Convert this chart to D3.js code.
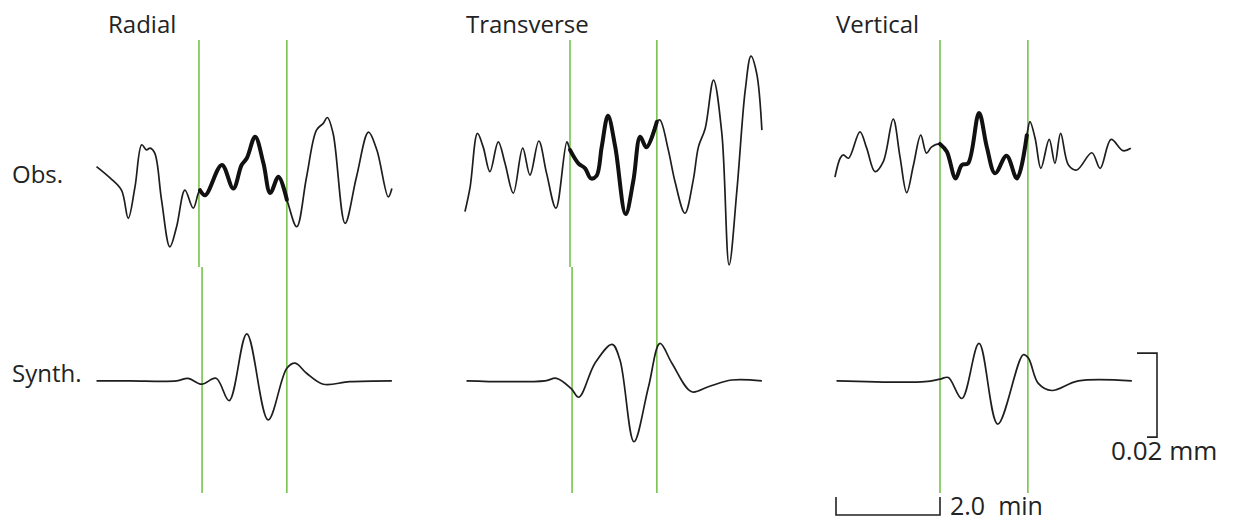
<!DOCTYPE html>
<html>
<head>
<meta charset="utf-8">
<script src="https://cdn.jsdelivr.net/npm/d3@7"></script>
<style>
  body { margin: 0; background: #fff; }
  text { font-family: "Open Sans", sans-serif; fill: #232323; }
</style>
</head>
<body>
<svg id="chart"></svg>
<script>
// time in minutes from the first pick, amplitude in micrometres (0.001 mm)
const components = ['Radial', 'Transverse', 'Vertical'];
const rowLabels = ['Obs.', 'Synth.'];

const radialObs = [
  [-1.99, 0.8], [-1.73, -1.9], [-1.51, -4.8], [-1.38, -11.5], [-1.25, -4.0], [-1.12, 6.0],
  [-1.03, 4.8], [-0.96, 5.2], [-0.87, 4.0], [-0.74, -7.1], [-0.58, -18.3], [-0.45, -13.5],
  [-0.29, -4.8], [-0.13, -9.1], [0, -4.8], [0.10, -6.0], [0.42, 1.2], [0.64, -4.4],
  [0.80, 1.2], [0.90, 2.8], [1.06, 7.9], [1.22, 1.6], [1.35, -5.5], [1.51, -1.6],
  [1.67, -7.1], [1.86, -13.5], [2.05, -1.6], [2.24, 9.5], [2.37, 11.1], [2.45, 12.5],
  [2.56, 8.7], [2.79, -12.7], [3.01, -1.6], [3.24, 9.0], [3.40, 4.8], [3.62, -6.4], [3.69, -4.4]
];
const transverseObs = [
  [-2.02, -9.9], [-1.92, -4.0], [-1.78, 8.7], [-1.67, 5.5], [-1.54, -0.4], [-1.38, 6.7],
  [-1.25, 1.6], [-1.09, -5.5], [-0.91, 5.2], [-0.77, -1.2], [-0.60, 6.9], [-0.45, -0.8],
  [-0.27, -9.1], [-0.06, 6.7], [0, 4.8], [0.16, 1.6], [0.29, 0.4], [0.40, -2.0],
  [0.51, -1.4], [0.61, 5.5], [0.73, 12.9], [0.87, 5.5], [1.07, -10.5], [1.22, -2.4],
  [1.35, 7.9], [1.47, 5.4], [1.67, 11.5], [1.73, 11.9], [1.89, 4.8], [2.02, -2.8],
  [2.21, -10.3], [2.37, -2.4], [2.47, 5.5], [2.60, 9.9], [2.76, 21.4], [2.92, 8.7],
  [3.06, -22.6], [3.21, -4.8], [3.37, 19.0], [3.48, 27.1], [3.59, 23.0], [3.69, 9.5]
];
const verticalObs = [
  [-2.02, -1.7], [-1.92, 2.8], [-1.86, 3.6], [-1.76, 2.8], [-1.54, 9.1], [-1.41, 5.2],
  [-1.25, -0.4], [-1.09, 2.0], [-0.90, 12.1], [-0.77, 3.2], [-0.64, -5.4], [-0.51, 1.2],
  [-0.37, 8.3], [-0.26, 4.0], [-0.16, 5.5], [0, 6.2], [0.13, 4.4], [0.30, -2.0],
  [0.42, 1.2], [0.54, 1.6], [0.75, 13.6], [0.90, 5.5], [1.06, -0.8], [1.28, 3.4],
  [1.48, -2.0], [1.67, 8.3], [1.73, 11.5], [1.83, 7.5], [1.94, 0.4], [2.10, 7.3],
  [2.21, 1.6], [2.32, 8.7], [2.47, 1.2], [2.63, 0], [2.92, 4.1], [3.08, 0.4],
  [3.29, 7.3], [3.52, 4.6], [3.67, 5.2]
];

const radialSynth = [
  [-1.99, -0.2], [-1.35, -0.2], [-0.45, -0.2], [-0.23, 0.4], [0.03, -1.0], [0.31, 0.4],
  [0.56, -4.9], [0.90, 11.0], [1.31, -9.5], [1.67, 2.8], [1.83, 4.0], [2.05, 1.6],
  [2.37, -1.0], [2.88, -0.4], [3.69, -0.2]
];
const transverseSynth = [
  [-1.99, -0.2], [-1.25, -0.4], [-0.48, -0.2], [-0.26, 0.4], [0.02, -2.0], [0.17, -4.1],
  [0.48, 4.0], [0.81, 8.5], [0.96, 4.8], [1.23, -14.7], [1.51, -1.6], [1.73, 8.7],
  [1.96, 4.0], [2.34, -2.8], [2.66, -1.6], [3.11, 0], [3.69, -0.2]
];
const verticalSynth = [
  [-1.99, -0.2], [-0.29, -0.4], [0, 0.2], [0.16, 0.6], [0.42, -4.4], [0.75, 8.7],
  [1.11, -10.5], [1.60, 6.0], [1.70, 5.2], [1.89, -0.8], [2.15, -2.5], [2.66, -0.2],
  [3.69, -0.2]
];

// pick times (min): [first pick above, first pick below, second pick]
const picks = [[-0.02, 0.04, 1.67], [0, 0.04, 1.67], [0, 0, 1.69]];
const pickWindow = [0, 1.68];
const timeBar = 2.0;      // min
const ampBar = 20;        // micrometres = 0.02 mm

const obsData = [radialObs, transverseObs, verticalObs];
const synthData = [radialSynth, transverseSynth, verticalSynth];

const width = 1235, height = 526;
const pickOrigins = [200, 570, 940];
const titleX = [108, 466, 836];
const pxPerMin = 52;
const lineTop = 40, lineJog = 267, lineBottom = 493;
const green = '#79c24f';

const svg = d3.select('#chart').attr('width', width).attr('height', height);

const yObs = d3.scaleLinear().domain([0, ampBar]).range([170, 86]);
const ySynth = d3.scaleLinear().domain([0, ampBar]).range([380, 296]);

components.forEach(function (name, i) {
  const x = d3.scaleLinear().domain([0, timeBar]).range([pickOrigins[i], pickOrigins[i] + timeBar * pxPerMin]);
  const g = svg.append('g');

  // green pick lines
  const p = picks[i];
  g.append('path')
    .attr('d', 'M' + x(p[0]) + ',' + lineTop + 'V' + lineJog + 'M' + x(p[1]) + ',' + lineJog + 'V' + lineBottom)
    .style('fill', 'none').style('stroke', green).style('stroke-width', 1.6);
  g.append('line')
    .attr('x1', x(p[2])).attr('x2', x(p[2]))
    .attr('y1', lineTop).attr('y2', lineBottom)
    .style('stroke', green).style('stroke-width', 1.6);

  const obsLine = d3.line().curve(d3.curveCatmullRom.alpha(0.5))
    .x(function (d) { return x(d[0]); })
    .y(function (d) { return yObs(d[1]); });
  const synthLine = d3.line().curve(d3.curveCatmullRom.alpha(0.5))
    .x(function (d) { return x(d[0]); })
    .y(function (d) { return ySynth(d[1]); });

  g.append('path').datum(obsData[i]).attr('d', obsLine)
    .style('fill', 'none').style('stroke', '#1e1e1e').style('stroke-width', 1.7);
  g.append('path')
    .datum(obsData[i].filter(function (d) { return d[0] >= pickWindow[0] && d[0] <= pickWindow[1]; }))
    .attr('d', obsLine)
    .style('fill', 'none').style('stroke', '#111').style('stroke-width', 4)
    .style('stroke-linejoin', 'round').style('stroke-linecap', 'round');
  g.append('path').datum(synthData[i]).attr('d', synthLine)
    .style('fill', 'none').style('stroke', '#1e1e1e').style('stroke-width', 1.7);

  g.append('text').attr('x', titleX[i]).attr('y', 33)
    .style('font-size', '24px').text(name);

  if (i === 2) {
    // 2.0 min time bar
    const yb = 515;
    svg.append('path')
      .attr('d', 'M' + x(-timeBar) + ',' + (yb - 18) + 'V' + yb + 'H' + x(0) + 'V' + (yb - 18))
      .style('fill', 'none').style('stroke', '#222').style('stroke-width', 1.6);
    svg.append('text').attr('x', x(0) + 10).attr('y', yb)
      .style('font-size', '25px').style('white-space', 'pre').text('2.0  min');

    // 0.02 mm amplitude bar
    const xb = 1157;
    svg.append('path')
      .attr('d', 'M' + (xb - 20) + ',' + ySynth(6.4) + 'H' + xb + 'V' + ySynth(6.4 - ampBar) + 'H' + (xb - 10))
      .style('fill', 'none').style('stroke', '#222').style('stroke-width', 1.6);
    svg.append('text').attr('x', 1111).attr('y', 460)
      .style('font-size', '26px').text('0.02 mm');
  }
});

svg.selectAll('.rowlabel').data(rowLabels).enter().append('text')
  .attr('class', 'rowlabel')
  .attr('x', 12)
  .attr('y', function (d, i) { return i === 0 ? 183 : 382; })
  .style('font-size', '24px')
  .text(function (d) { return d; });
</script>
</body>
</html>
